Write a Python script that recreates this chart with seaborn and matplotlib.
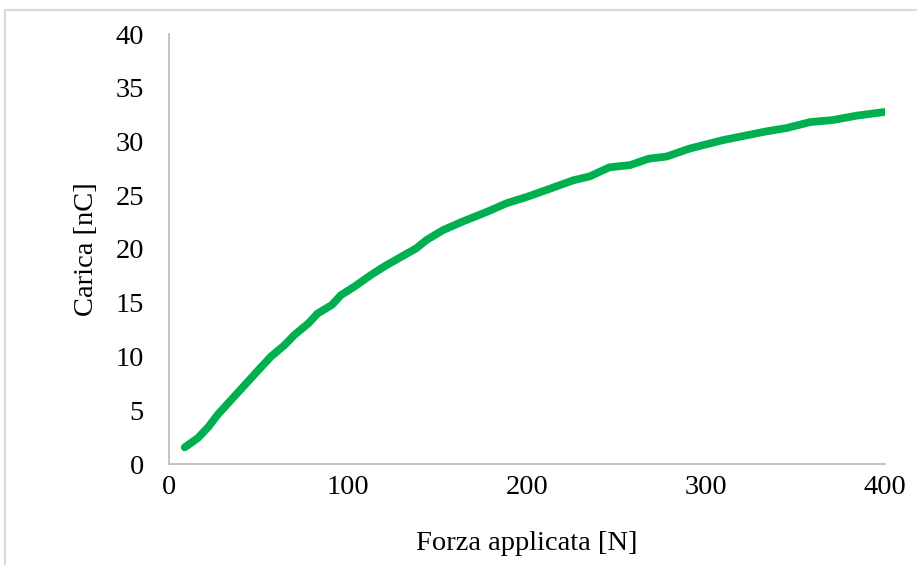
import matplotlib
matplotlib.use("Agg")
import matplotlib.pyplot as plt
import seaborn as sns
import pandas as pd
from matplotlib.patches import Rectangle

force = [8.8, 16, 22, 27, 33, 38.5, 44, 50, 57, 64.5, 70, 74, 78, 83, 91, 96, 104, 113,
         120.5, 130, 138, 144, 153, 164, 177.5, 188.5, 200, 211, 226, 235, 246, 257.5,
         268, 278, 291, 310, 334, 345, 358, 371, 384, 400]
charge = [1.55, 2.4, 3.45, 4.55, 5.65, 6.65, 7.65, 8.75, 10.0, 11.05, 12.0, 12.55, 13.1,
          14.0, 14.8, 15.7, 16.55, 17.6, 18.4, 19.3, 20.05, 20.85, 21.75, 22.55, 23.45,
          24.25, 24.85, 25.5, 26.4, 26.75, 27.6, 27.8, 28.4, 28.6, 29.35, 30.15, 30.95,
          31.25, 31.8, 32.0, 32.4, 32.75]
x_ticks = [0, 100, 200, 300, 400]
y_ticks = [0, 5, 10, 15, 20, 25, 30, 35, 40]
x_label = "Forza applicata [N]"
y_label = "Carica [nC]"

sns.set_theme(style="white")
plt.rcParams["font.family"] = ["Liberation Serif", "DejaVu Serif"]

df = pd.DataFrame({"force": force, "charge": charge})

W, H = 917, 565
fig = plt.figure(figsize=(W / 100, H / 100), dpi=100)
ax = fig.add_axes([169 / W, 1 - 464 / H, (885 - 169) / W, (464 - 34) / H])

sns.lineplot(data=df, x="force", y="charge", ax=ax, color="#00B050",
             linewidth=5.6, solid_capstyle="round", solid_joinstyle="round")

FS = 20.5
ax.set_xlim(0, 400)
ax.set_ylim(0, 40)
ax.set_xticks(x_ticks)
ax.set_yticks(y_ticks)
ax.tick_params(axis="both", length=0, labelsize=FS, labelcolor="black")
ax.tick_params(axis="y", pad=18)
ax.tick_params(axis="x", pad=8)
ax.set_xlabel(x_label, fontsize=FS, labelpad=22, color="black")
ax.set_ylabel(y_label, fontsize=FS, labelpad=12, color="black")

for s in ["top", "right"]:
    ax.spines[s].set_visible(False)
for s in ["left", "bottom"]:
    ax.spines[s].set_color("#BFBFBF")
    ax.spines[s].set_linewidth(1.3)
ax.grid(False)

# outer chart frame (partially visible)
fig.patches.append(Rectangle((5 / W, -0.1), 1.2, 1 - 10 / H + 0.1,
                             transform=fig.transFigure, fill=False,
                             edgecolor="#D9D9D9", linewidth=1.5))

fig.savefig("out.png", dpi=100)
